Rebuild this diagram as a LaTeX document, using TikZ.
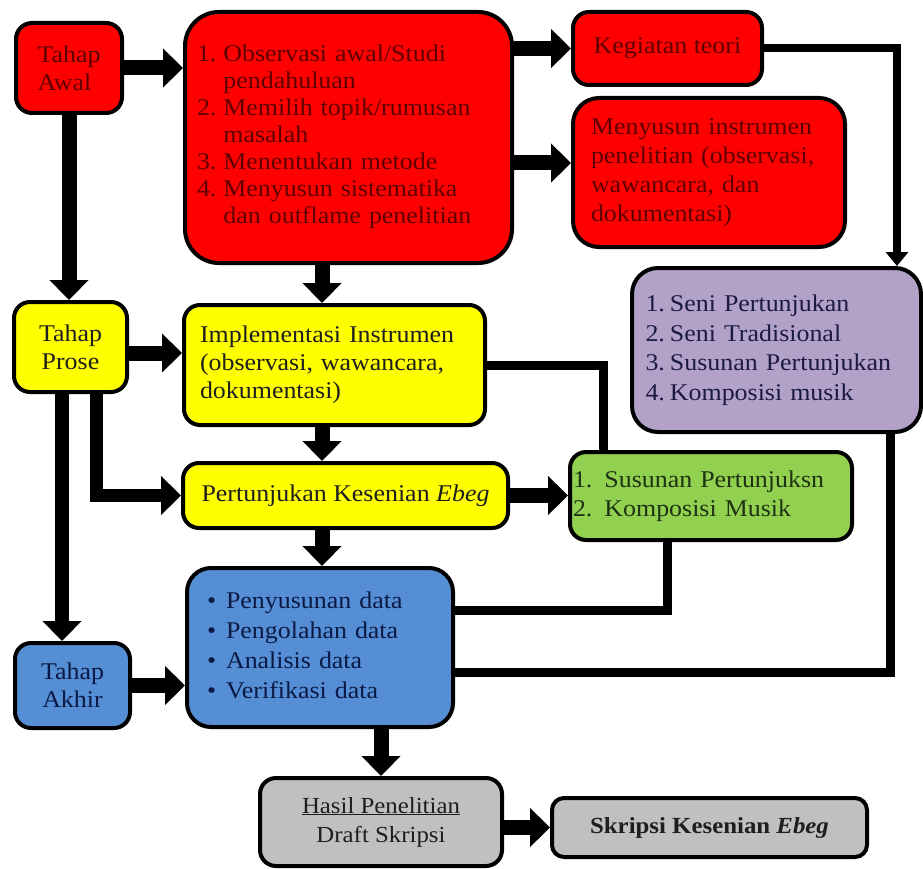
\documentclass[tikz,border=0pt]{standalone}
\usepackage{fontspec}
\setmainfont{Liberation Serif}[FakeStretch=1.08]
\usetikzlibrary{arrows.meta}
\definecolor{cRed}{HTML}{FF0000}
\definecolor{cRedTxt}{HTML}{5E0000}
\definecolor{cYel}{HTML}{FFFF00}
\definecolor{cPur}{HTML}{B3A2C7}
\definecolor{cGrn}{HTML}{92D050}
\definecolor{cBlu}{HTML}{558ED5}
\definecolor{cGry}{HTML}{C0C0C0}
\definecolor{cDark}{HTML}{1E1E1E}
\definecolor{cPurTxt}{HTML}{1C1A40}
\definecolor{cGrnTxt}{HTML}{1F3314}
\definecolor{cBluTxt}{HTML}{0B1A45}
\newcommand\myfs[2]{\fontsize{#1}{#2}\selectfont}
\begin{document}
\begin{tikzpicture}[x=1pt,y=-1pt,
  box/.style={draw=black, line width=4pt, rounded corners=16pt, inner sep=0pt, font=\myfs{24}{28}},
  bigarr/.style={-{Triangle[length=20pt,width=38pt]}, line width=15pt},
  smallarr/.style={-{Triangle[length=14pt,width=22pt]}, line width=8pt},
  link/.style={line width=9pt}]
\useasboundingbox[fill=white] (0,0) rectangle (923,869);

% nodes
\node[box, fill=cRed, text=cRedTxt, minimum width=106pt, minimum height=90pt, align=left] (awal) at (69,68) {Tahap\\Awal};
\node[box, fill=cRed, text=cRedTxt, rounded corners=34pt, minimum width=327pt, minimum height=251pt, text width=303pt, align=left, font=\myfs{24}{27}] (red) at (348.5,137.5)
 {\begin{tabular}{@{}l@{\hspace{7pt}}l@{}}
 1. & Observasi awal/Studi\\
    & pendahuluan\\
 2. & Memilih topik/rumusan\\
    & masalah\\
 3. & Menentukan metode\\
 4. & Menyusun sistematika\\
    & dan outflame penelitian
 \end{tabular}};
\node[box, fill=cRed, text=cRedTxt, minimum width=189pt, minimum height=73pt] (teori) at (667.5,48.5) {Kegiatan teori};
\node[box, fill=cRed, text=cRedTxt, rounded corners=26pt, minimum width=272pt, minimum height=149pt, text width=236pt, align=left, font=\myfs{24}{29}] (instr) at (709,172.5)
 {Menyusun instrumen\\penelitian (observasi,\\wawancara, dan\\dokumentasi)};
\node[box, fill=cPur, text=cPurTxt, rounded corners=26pt, minimum width=289pt, minimum height=164pt, text width=262pt, align=left, font=\myfs{24}{29.5}] (purple) at (776.5,350)
 {\begin{tabular}{@{}l@{\hspace{5pt}}l@{}}1. & Seni Pertunjukan\\2. & Seni Tradisional\\3. & Susunan Pertunjukan\\4. & Komposisi musik\end{tabular}};
\node[box, fill=cYel, text=cDark, minimum width=113pt, minimum height=90pt, align=center] (prose) at (70.5,347) {Tahap\\Prose};
\node[box, fill=cYel, text=cDark, minimum width=301pt, minimum height=120pt, text width=269pt, align=left, font=\myfs{24}{28}] (impl) at (334.5,365)
 {Implementasi Instrumen\\(observasi, wawancara,\\dokumentasi)};
\node[box, fill=cYel, text=cDark, minimum width=325pt, minimum height=65pt] (pert) at (345.5,495.5) {Pertunjukan Kesenian \textit{Ebeg}};
\node[box, fill=cGrn, text=cGrnTxt, minimum width=282pt, minimum height=88pt, text width=276pt, align=left, font=\myfs{24}{29}] (green) at (711,496)
 {\begin{tabular}{@{}l@{\hspace{12pt}}l@{}}1. & Susunan Pertunjuksn\\2. & Komposisi Musik\end{tabular}};
\node[box, fill=cBlu, text=cBluTxt, rounded corners=24pt, minimum width=266pt, minimum height=159pt, text width=226pt, align=left, font=\myfs{24}{30}] (blue) at (320,647.5)
 {\begin{tabular}{@{}l@{\hspace{10pt}}l@{}}\textbullet & Penyusunan data\\\textbullet & Pengolahan data\\\textbullet & Analisis data\\\textbullet & Verifikasi data\end{tabular}};
\node[box, fill=cBlu, text=cBluTxt, minimum width=115pt, minimum height=85pt, align=center] (akhir) at (72.5,685.5) {Tahap\\Akhir};
\node[box, fill=cGry, text=cDark, minimum width=242pt, minimum height=88pt, align=center, font=\myfs{23}{29}] (hasil) at (381,822) {\underline{Hasil Penelitian}\\Draft Skripsi};
\node[box, fill=cGry, text=cDark, rounded corners=12pt, minimum width=315pt, minimum height=59pt, font=\myfs{23}{28}] (skripsi) at (709.5,827.5) {\textbf{Skripsi Kesenian \textit{Ebeg}}};

% helper coordinates
\coordinate (cx) at (322,0);
\coordinate (iy) at (0,163);
\coordinate (py) at (0,353);
\coordinate (kx) at (897,0);
\coordinate (gx) at (603,0);
\coordinate (px) at (96,0);
\coordinate (ax) at (62,0);
\coordinate (g2) at (667,610);
\coordinate (p2) at (890,672);

% connectors
\draw[bigarr] (awal.east) -- (red.west |- awal.east);
\draw[bigarr] (red.east |- teori.west) -- (teori.west);
\draw[bigarr] (red.east |- iy) -- (instr.west |- iy);
\draw[smallarr] (teori.east) -| (kx |- purple.north);
\draw[bigarr] (awal.south) -- (awal.south |- prose.north);
\draw[bigarr] (cx |- red.south) -- (cx |- impl.north);
\draw[bigarr] (prose.east |- py) -- (impl.west |- py);
\draw[bigarr] (cx |- impl.south) -- (cx |- pert.north);
\draw[bigarr, line width=13pt] (px |- prose.south) |- (pert.west);
\draw[bigarr, line width=14pt] (ax |- prose.south) -- (ax |- akhir.north);
\draw[bigarr] (pert.east) -- (green.west |- pert.east);
\draw[link] (impl.east) -| (gx |- green.north);
\draw[bigarr] (cx |- pert.south) -- (cx |- blue.north);
\draw[link] (g2 |- green.south) |- (blue.east |- g2);
\draw[link] (p2 |- purple.south) |- (blue.east |- p2);
\draw[bigarr] (akhir.east) -- (blue.west |- akhir.east);
\draw[bigarr] (blue.south -| hasil.north) -- (hasil.north);
\draw[bigarr] (hasil.east |- skripsi.west) -- (skripsi.west);
\end{tikzpicture}
\end{document}
